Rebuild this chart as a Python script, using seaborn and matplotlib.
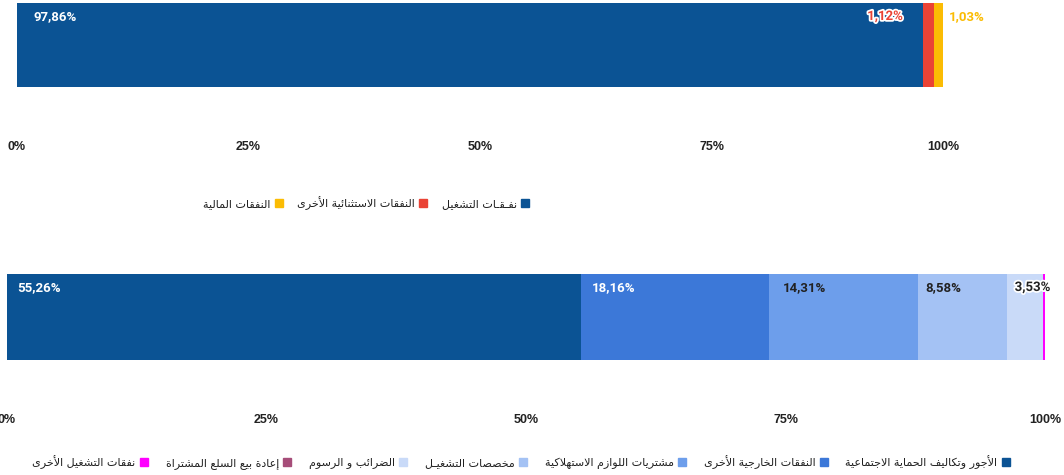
import unicodedata
import matplotlib
matplotlib.use("Agg")
import matplotlib.pyplot as plt
import matplotlib.patheffects as pe
from matplotlib.lines import Line2D
import seaborn as sns
import numpy as np

# ---- data ----
top_labels = ["نفـقـات التشغيل", "النفقات الاستثنائية الأخرى", "النفقات المالية"]
top_values = [97.86, 1.12, 1.03]
top_colors = ["#0b5394", "#ea4335", "#fbbc04"]

bottom_labels = ["الأجور وتكاليف الحماية الاجتماعية", "النفقات الخارجية الأخرى",
                 "مشتريات اللوازم الاستهلاكية", "مخصصات التشغيـل", "الضرائب و الرسوم",
                 "إعادة بيع السلع المشتراة", "نفقات التشغيل الأخرى"]
bottom_values = [55.26, 18.16, 14.31, 8.58, 3.53, 0.01, 0.15]
bottom_colors = ["#0b5394", "#3c78d8", "#6d9eeb", "#a4c2f4", "#c9daf8", "#a64d79", "#ff00ff"]

ticks = [0, 25, 50, 75, 100]
tick_labels = ["0%", "25%", "50%", "75%", "100%"]


# ---- minimal arabic shaping (matplotlib has no bidi / shaping) ----
RIGHT_ONLY = set("اأإآدذرزوؤةى")
LAM_ALEF = {"ا": "ARABIC LIGATURE LAM WITH ALEF",
            "أ": "ARABIC LIGATURE LAM WITH ALEF WITH HAMZA ABOVE",
            "إ": "ARABIC LIGATURE LAM WITH ALEF WITH HAMZA BELOW",
            "آ": "ARABIC LIGATURE LAM WITH ALEF WITH MADDA ABOVE"}


def jtype(ch):
    if ch == "ـ":
        return "C"
    if ch == "ء":
        return "U"
    if ch in RIGHT_ONLY or ch in LAM_ALEF.values():
        return "R"
    if "\u0621" <= ch <= "\u064A":
        return "D"
    return "U"


def shape(text):
    toks = []
    i = 0
    while i < len(text):
        c = text[i]
        if c == "ل" and i + 1 < len(text) and text[i + 1] in LAM_ALEF:
            toks.append(LAM_ALEF[text[i + 1]])
            i += 2
        else:
            toks.append(c)
            i += 1
    out = []
    for k, t in enumerate(toks):
        ty = jtype(t)
        prev = k > 0 and jtype(toks[k - 1]) in "DC" and ty in "DRC"
        nxt = ty in "DC" and k + 1 < len(toks) and jtype(toks[k + 1]) in "DRC"
        if prev and nxt:
            f = "MEDIAL"
        elif prev:
            f = "FINAL"
        elif nxt:
            f = "INITIAL"
        else:
            f = "ISOLATED"
        base = t if len(t) > 1 else (unicodedata.name(t, "") if ty != "U" else "")
        g = t if len(t) == 1 else None
        if base:
            try:
                g = unicodedata.lookup(base + " " + f + " FORM")
            except KeyError:
                if g is None:
                    g = unicodedata.lookup(base + " ISOLATED FORM")
        out.append(g)
    return "".join(reversed(out))


sns.set_style("white")
plt.rcParams["font.family"] = ["Liberation Sans", "DejaVu Sans"]

fig = plt.figure(figsize=(10.64, 4.75), dpi=100)
ax1 = fig.add_axes([17 / 1064, 1 - 87 / 475, 926 / 1064, 84 / 475])
ax2 = fig.add_axes([7 / 1064, 1 - 360 / 475, 1038 / 1064, 86 / 475])


def stacked(ax, values, colors):
    cum = np.cumsum(values)
    # draw cumulative bars from the longest to the shortest so they stack
    for c, col in reversed(list(zip(cum, colors))):
        sns.barplot(x=[c], y=["row"], color=col, width=1, orient="h",
                    saturation=1, ax=ax, linewidth=0)
    ax.set_ylim(0.5, -0.5)
    ax.set_xlim(0, 100)
    ax.set_xticks(ticks)
    ax.set_xticklabels(tick_labels, fontsize=9, fontweight="bold", color="#222222")
    ax.set_yticks([])
    ax.set_xlabel("")
    ax.set_ylabel("")
    ax.tick_params(axis="x", length=0, pad=39)
    sns.despine(ax=ax, left=True, bottom=True)
    return cum - np.array(values), cum


def label(ax, x, text, color, dx, ha="left", halo=False):
    t = ax.annotate(text, xy=(x, 1), xycoords=("data", "axes fraction"),
                    xytext=(dx, -7), textcoords="offset pixels", ha=ha, va="top",
                    fontsize=9.5, fontweight="bold", color=color, family="Roboto")
    if halo:
        t.set_path_effects([pe.withStroke(linewidth=2.5, foreground="white")])


def fmt(v):
    return f"{v:.2f}".replace(".", ",") + "%"


# top panel
s1, e1 = stacked(ax1, top_values, top_colors)
label(ax1, s1[0], fmt(top_values[0]), "white", 16)
label(ax1, s1[1], fmt(top_values[1]), top_colors[1], -20, ha="right", halo=True)
label(ax1, e1[2], fmt(top_values[2]), top_colors[2], 6)

# bottom panel
s2, e2 = stacked(ax2, bottom_values, bottom_colors)
label(ax2, s2[0], fmt(bottom_values[0]), "white", 10)
label(ax2, s2[1], fmt(bottom_values[1]), "white", 11)
label(ax2, s2[2], fmt(bottom_values[2]), "#222222", 14)
label(ax2, s2[3], fmt(bottom_values[3]), "#222222", 8)
label(ax2, s2[4], fmt(bottom_values[4]), "#222222", 8, halo=True)


def rtl_legend(labels, colors, anchor, spacing):
    handles = [Line2D([], [], marker="s", ls="", color=c, markersize=6) for c in colors]
    names = [shape(l) for l in labels]
    fig.legend(handles[::-1], names[::-1], loc="center", bbox_to_anchor=anchor,
               ncol=len(labels), frameon=False, markerfirst=False, handlelength=0.7,
               handletextpad=0.4, columnspacing=spacing,
               prop={"family": "DejaVu Sans", "size": 8}, labelcolor="#222222")


rtl_legend(top_labels, top_colors, (366 / 1064, 1 - 203 / 475), 1.3)
rtl_legend(bottom_labels, bottom_colors, (521 / 1064, 1 - 462 / 475), 1.6)

fig.savefig("out.png", dpi=100)
